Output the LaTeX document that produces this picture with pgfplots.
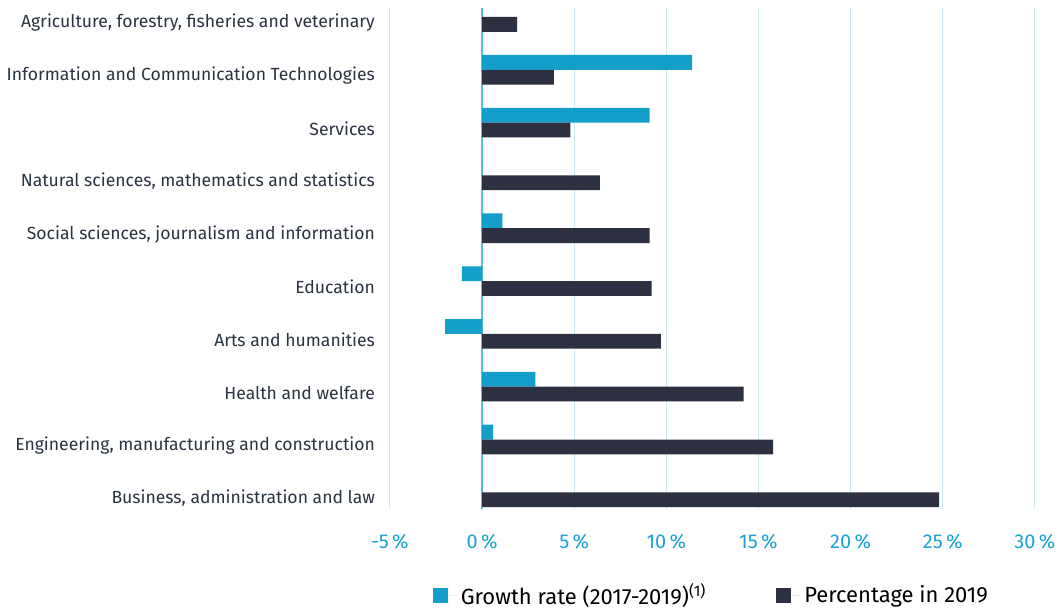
\documentclass[border=0pt]{standalone}
\usepackage{fontspec}
\setmainfont{Fira Sans}
\usepackage{pgfplots}
\pgfplotsset{compat=1.18}

\definecolor{growth}{HTML}{139FCA}
\definecolor{pct}{HTML}{2C3040}
\definecolor{gridc}{HTML}{CDE9F3}
\definecolor{zeroc}{HTML}{5BBEDD}
\definecolor{tickc}{HTML}{1BA3D3}
\definecolor{labc}{HTML}{2A3340}

% growth rate 2017-2019, percentage in 2019 (0 = Business ... 9 = Agriculture)
\pgfplotstableread{
y growth pct
0 0    24.8
1 0.6  15.8
2 2.9  14.2
3 -2.0 9.7
4 -1.1 9.2
5 1.1  9.1
6 0    6.4
7 9.1  4.8
8 11.4 3.9
9 0    1.9
}\datatable

\begin{document}
\begin{tikzpicture}
\begin{axis}[
  name=main,
  scale only axis,
  width=323pt, height=251pt,
  xbar, bar width=0.28,
  xmin=-5, xmax=30,
  ymin=-0.32, ymax=9.17,
  xtick={-5,0,...,30},
  xticklabel={\pgfmathprintnumber{\tick}\,\%},
  /pgf/number format/assume math mode=true,
  ytick={0,...,9},
  yticklabels={{Business, administration and law},
    {Engineering, manufacturing and construction},
    Health and welfare, Arts and humanities, Education,
    {Social sciences, journalism and information},
    {Natural sciences, mathematics and statistics},
    Services, Information and Communication Technologies,
    {Agriculture, forestry, fisheries and veterinary}},
  yticklabel style={font=\fontsize{8.8}{10}\selectfont, text=labc, xshift=-4pt, yshift=-3pt},
  xticklabel style={font=\fontsize{10}{12}\selectfont, text=tickc, yshift=-9pt},
  xmajorgrids, grid style={gridc, line width=0.6pt},
  axis line style={draw=none},
  major tick length=0pt,
  extra x ticks={0}, extra x tick labels={},
  extra x tick style={grid style={zeroc, line width=0.6pt}},
  legend style={at={(0.5,-0.131)}, anchor=north, draw=none,
    font=\fontsize{11}{13}\selectfont, legend columns=2,
    /tikz/every even column/.append style={column sep=33pt}},
  legend image code/.code={\fill[#1] (0pt,-3.7pt) rectangle (7.4pt,3.7pt);
    \path (0pt,0pt) -- (12pt,0pt);},
]
\addplot[fill=growth, draw=none, bar shift=0.14] table[x=growth, y=y] {\datatable};
\addplot[fill=pct, draw=none, bar shift=-0.14] table[x=pct, y=y] {\datatable};
\legend{Growth rate (2017-2019)\textsuperscript{(1)}, Percentage in 2019}
\end{axis}
\path ([yshift=4pt]main.north);
\end{tikzpicture}
\end{document}
